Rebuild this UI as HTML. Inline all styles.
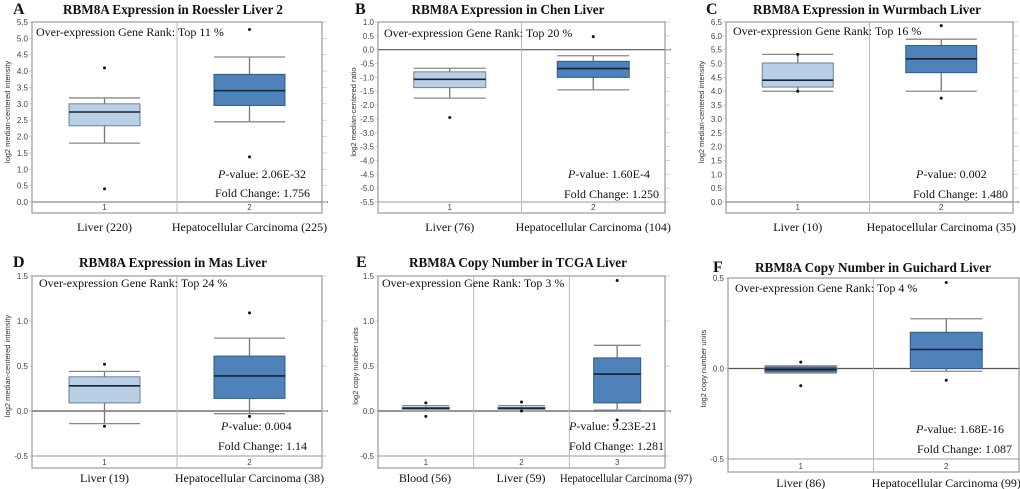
<!DOCTYPE html>
<html><head><meta charset="utf-8"><style>
html,body{margin:0;padding:0;background:#fff;}
svg{display:block;}
.tt{font-family:"Liberation Serif",serif;font-weight:bold;font-size:14px;fill:#111;}
.lt{font-family:"Liberation Serif",serif;font-weight:bold;font-size:16px;fill:#111;}
.sf{font-family:"Liberation Serif",serif;font-size:12px;fill:#111;}
.tk{font-family:"Liberation Sans",sans-serif;font-size:8px;fill:#444;}
.yt{font-family:"Liberation Sans",sans-serif;font-size:7.5px;fill:#333;}
</style></head><body>
<svg id="fig" width="1020" height="489" viewBox="0 0 1020 489" xmlns="http://www.w3.org/2000/svg"></svg>
<script>
// Panel A data
const A_categories=["Liver (220)","Hepatocellular Carcinoma (225)"];
const A_stats=[[1.8,2.33,2.75,3.0,3.18],[2.45,2.95,3.4,3.9,4.43]];
const A_outliers=[[4.1,0.4],[5.27,1.38]];
const A_ticks=[0,0.5,1,1.5,2,2.5,3,3.5,4,4.5,5,5.5];
// Panel B data
const B_categories=["Liver (76)","Hepatocellular Carcinoma (104)"];
const B_stats=[[-1.75,-1.37,-1.07,-0.8,-0.67],[-1.45,-1.0,-0.68,-0.42,-0.22]];
const B_outliers=[[-2.45],[0.47]];
const B_ticks=[-5.5,-5,-4.5,-4,-3.5,-3,-2.5,-2,-1.5,-1,-0.5,0,0.5,1];
// Panel C data
const C_categories=["Liver (10)","Hepatocellular Carcinoma (35)"];
const C_stats=[[4.0,4.15,4.4,5.02,5.33],[4.0,4.67,5.17,5.65,5.88]];
const C_outliers=[[5.33,4.0],[6.37,3.75]];
const C_ticks=[0,0.5,1,1.5,2,2.5,3,3.5,4,4.5,5,5.5,6,6.5];
// Panel D data
const D_categories=["Liver (19)","Hepatocellular Carcinoma (38)"];
const D_stats=[[-0.14,0.09,0.28,0.38,0.44],[-0.03,0.14,0.39,0.61,0.81]];
const D_outliers=[[0.52,-0.17],[1.09,-0.06]];
const D_ticks=[-0.5,0,0.5,1,1.5];
// Panel E data
const E_categories=["Blood (56)","Liver (59)","Hepatocellular Carcinoma (97)"];
const E_stats=[[0.0,0.02,0.03,0.04,0.06],[0.0,0.02,0.03,0.04,0.06],[0.01,0.09,0.41,0.59,0.73]];
const E_outliers=[[0.09,-0.06],[0.1,0.0],[1.45,-0.1]];
const E_ticks=[-0.5,0,0.5,1,1.5];
// Panel F data
const F_categories=["Liver (86)","Hepatocellular Carcinoma (99)"];
const F_stats=[[-0.025,-0.02,-0.005,0.01,0.015],[-0.015,0.0,0.105,0.2,0.275]];
const F_outliers=[[0.035,-0.095],[0.475,-0.065]];
const F_ticks=[-0.5,0,0.5];

const NS="http://www.w3.org/2000/svg";
const svg=document.getElementById('fig');
function mk(tag,attrs,parent,txt){const e=document.createElementNS(NS,tag);for(const k in attrs)e.setAttribute(k,attrs[k]);if(txt!==undefined)e.textContent=txt;(parent||svg).appendChild(e);return e;}

const panels=[
 {id:"a",letter:"A",lx:13,title:"RBM8A Expression in Roessler Liver 2",tx:173,ty:13,tw:220,left:32,right:322,ptop:22,pbot:202,fbot:213,
  cats:A_categories,stats:A_stats,outs:A_outliers,ticks:A_ticks,ytitle:"log2 median-centered intensity",ytx:6,
  rank:"Top 11 %",rx:36,ry:36,px:218,py:178,fx:215,fy:197,pv:"2.06E-32",fc:"1.756",bw:71,cy:231},
 {id:"b",letter:"B",lx:355,title:"RBM8A Expression in Chen Liver",tx:508,ty:13,tw:193,left:378,right:665,ptop:22,pbot:202,fbot:213,
  cats:B_categories,stats:B_stats,outs:B_outliers,ticks:B_ticks,ytitle:"log2 median-centered ratio",ytx:352,
  rank:"Top 20 %",rx:384,ry:37,px:568,py:178,fx:564,fy:198,pv:"1.60E-4",fc:"1.250",bw:72,cy:231},
 {id:"c",letter:"C",lx:706,title:"RBM8A Expression in Wurmbach Liver",tx:867,ty:13,tw:228,left:726,right:1013,ptop:22,pbot:202,fbot:213,
  cats:C_categories,stats:C_stats,outs:C_outliers,ticks:C_ticks,ytitle:"log2 median-centered intensity",ytx:700,
  rank:"Top 16 %",rx:733,ry:35,px:916,py:178,fx:913,fy:198,pv:"0.002",fc:"1.480",bw:71,cy:231},
 {id:"d",letter:"D",lx:13,title:"RBM8A Expression in Mas Liver",tx:173,ty:266,tw:188,left:32,right:322,ptop:276,pbot:456,fbot:468,
  cats:D_categories,stats:D_stats,outs:D_outliers,ticks:D_ticks,ytitle:"log2 median-centered intensity",ytx:6,
  rank:"Top 24 %",rx:39,ry:287,px:221,py:430,fx:218,fy:450,pv:"0.004",fc:"1.14",bw:71,cy:482},
 {id:"e",letter:"E",lx:356,title:"RBM8A Copy Number in TCGA Liver",tx:518,ty:266,tw:218,left:378,right:665,ptop:276,pbot:456,fbot:468,
  cats:E_categories,stats:E_stats,outs:E_outliers,ticks:E_ticks,ytitle:"log2 copy number units",ytx:354,
  rank:"Top 3 %",rx:382,ry:287,px:569,py:430,fx:569,fy:450,pv:"9.23E-21",fc:"1.281",bw:47,cy:482,
  labelX:[425,521,626],labelW:[null,null,132]},
 {id:"f",letter:"F",lx:713,title:"RBM8A Copy Number in Guichard Liver",tx:873,ty:271,tw:236,left:728,right:1019,ptop:278,pbot:459,fbot:472,
  cats:F_categories,stats:F_stats,outs:F_outliers,ticks:F_ticks,ytitle:"log2 copy number units",ytx:702,
  rank:"Top 4 %",rx:735,ry:292,px:916,py:433,fx:917,fy:453,pv:"1.68E-16",fc:"1.087",bw:72,cy:487}
];

panels.forEach(p=>{
  const g=mk('g',{});
  
  
  const vmax=p.ticks[p.ticks.length-1], vmin=p.ticks[0];
  const y=v=>p.ptop+(vmax-v)/(vmax-vmin)*(p.pbot-p.ptop);
  const n=p.cats.length, cw=(p.right-p.left)/n;
  const x=i=>p.left+cw*(i+0.5);
  const L=mk('text',{x:p.lx,y:p.ty+1,class:'lt'},g,p.letter);
  
  
  const T=mk('text',{x:p.tx,y:p.ty+1,class:'tt','text-anchor':'middle',textLength:p.tw,lengthAdjust:'spacingAndGlyphs'},g,p.title);
  
  
  p.ticks.forEach(t=>{
    const yy=y(t);
    if(t===0){
      const zl=mk('line',{x1:p.left,x2:p.right+6,y1:yy,y2:yy,stroke:'#555','stroke-width':1.2},g);
      
      
    }
    const tm=mk('line',{x1:p.left-3,x2:p.left,y1:yy,y2:yy,stroke:'#ccc','stroke-width':0.8},g);
    
    
    const tr=mk('line',{x1:p.right,x2:p.right+5,y1:yy,y2:yy,stroke:'#ccc','stroke-width':0.8},g);
    
    
    const tl=mk('text',{x:p.left-4,y:yy+3,class:'tk','text-anchor':'end'},g,t.toFixed(1));
    
    
  });
  const fr=mk('rect',{x:p.left,y:p.ptop,width:p.right-p.left,height:p.fbot-p.ptop,fill:'none',stroke:'#9a9a9a','stroke-width':1.2},g);
  
  
  const bl=mk('line',{x1:p.left,x2:p.right,y1:p.pbot,y2:p.pbot,stroke:'#999','stroke-width':1},g);
  
  
  for(let i=1;i<n;i++){
    const d=mk('line',{x1:p.left+cw*i,x2:p.left+cw*i,y1:p.ptop,y2:p.fbot,stroke:'#bbb','stroke-width':1},g);
    
    
  }
  const yc=(p.ptop+p.pbot)/2;
  const yt=mk('text',{x:p.ytx+4,y:yc,class:'yt','text-anchor':'middle',transform:`rotate(-90 ${p.ytx+4} ${yc})`},g,p.ytitle);
  
  
  p.cats.forEach((c,i)=>{
    const s=p.stats[i], cx=x(i), hw=p.bw/2;
    const isDark=(i===n-1);
    const fill=isDark?'#4f82b8':'#b8cfe6', st=isDark?'#2e5b88':'#6d8199';
    const bg=mk('g',{},g);
    
    
    mk('line',{x1:cx,x2:cx,y1:y(s[0]),y2:y(s[1]),stroke:'#777','stroke-width':1.3},bg);
    mk('line',{x1:cx,x2:cx,y1:y(s[3]),y2:y(s[4]),stroke:'#777','stroke-width':1.3},bg);
    mk('line',{x1:cx-hw,x2:cx+hw,y1:y(s[0]),y2:y(s[0]),stroke:'#888','stroke-width':1.3},bg);
    mk('line',{x1:cx-hw,x2:cx+hw,y1:y(s[4]),y2:y(s[4]),stroke:'#888','stroke-width':1.3},bg);
    const h=Math.max(y(s[1])-y(s[3]),1.5);
    mk('rect',{x:cx-hw,y:y(s[3]),width:p.bw,height:h,fill:(p.id==='e'&&i<2)||(p.id==='f'&&i===0)?'#3e5d7c':fill,stroke:st,'stroke-width':1},bg);
    mk('line',{x1:cx-hw,x2:cx+hw,y1:y(s[2]),y2:y(s[2]),stroke:'#152535','stroke-width':1.6},bg);
    p.outs[i].forEach(o=>{
      const pt=mk('circle',{cx:cx,cy:y(o),r:1.5,fill:'#111'},bg);
      
      
    });
    const nl=mk('text',{x:cx,y:p.fbot-3,class:'tk','text-anchor':'middle'},g,String(i+1));
    
    
    const lx=p.labelX?p.labelX[i]:cx;
    const la={x:lx,y:p.cy,class:'sf','text-anchor':'middle'};
    if(p.labelW&&p.labelW[i]){la.textLength=p.labelW[i];la.lengthAdjust='spacingAndGlyphs';}
    const cl=mk('text',la,g,c);
    
    
  });
  const rk=mk('text',{x:p.rx,y:p.ry,class:'sf'},g,'Over-expression Gene Rank: '+p.rank);
  
  
  const pvt=mk('text',{x:p.px,y:p.py,class:'sf'},g);
  
  
  mk('tspan',{'font-style':'italic'},pvt,'P');
  mk('tspan',{},pvt,'-value: '+p.pv);
  const fct=mk('text',{x:p.fx,y:p.fy,class:'sf'},g,'Fold Change: '+p.fc);
  
  
});
</script>
</body></html>
